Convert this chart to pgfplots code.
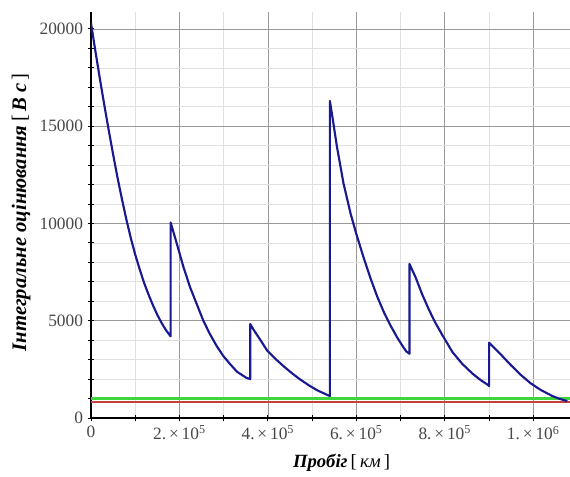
\documentclass[border=0pt]{standalone}
\usepackage{fontspec}
\setmainfont{Liberation Serif}
\usepackage{pgfplots}
\pgfplotsset{compat=1.18}
\definecolor{curveblue}{RGB}{25,25,145}
\definecolor{limgreen}{RGB}{60,215,60}
\definecolor{limred}{RGB}{195,65,65}
\begin{document}
\begin{tikzpicture}
\useasboundingbox (-68.25pt,-43.5pt) rectangle (359.25pt,313.5pt);
\begin{axis}[
  anchor=south west,at={(0,0)},
  scale only axis,width=359.25pt,height=304.5pt,
  xmin=0,xmax=1083000,ymin=0,ymax=20870,
  axis lines*=left,axis line style={-,black,line width=0.9pt},
  xtick={0,200000,400000,600000,800000,1000000},
  xticklabels={0,2.\,×\,10\textsuperscript{5},4.\,×\,10\textsuperscript{5},6.\,×\,10\textsuperscript{5},8.\,×\,10\textsuperscript{5},1.\,×\,10\textsuperscript{6}},
  ytick={0,5000,10000,15000,20000},
  scaled x ticks=false,scaled y ticks=false,
  minor x tick num=1,minor y tick num=4,
  grid=both,
  major grid style={draw=black!40,line width=0.6pt},
  minor grid style={draw=black!12,line width=0.5pt},
  tick align=center,major tick length=5pt,minor tick length=4pt,
  tick style={black,line width=0.7pt},
  /pgf/number format/assume math mode=true,
  /pgf/number format/set thousands separator={},
  ticklabel style={font=\fontsize{13}{15}\selectfont,text=black!72},
  xlabel={\textbf{\textit{Пробіг}}\,[\,\textit{км}\,]},
  ylabel={\textbf{\textit{Інтегральне оцінювання}}\,[\,\textbf{\textit{В с}}\,]},
  xlabel style={at={(axis description cs:0.523,-0.111)},anchor=center,font=\fontsize{14}{16}\selectfont},
  ylabel style={at={(axis description cs:-0.146,0.507)},anchor=center,font=\fontsize{15.5}{17}\selectfont},
]
\addplot[limred,line width=1.5pt] coordinates {(0,800) (1083000,800)};
\addplot[limgreen,line width=2pt] coordinates {(0,1000) (1083000,1000)};
\addplot[curveblue,line width=1.6pt,line join=round] coordinates {
(0,20300) (10000,18850) (20000,17450) (30000,16100) (40000,14800) (50000,13550)
(60000,12350) (70000,11250) (80000,10200) (90000,9250) (100000,8400) (110000,7650)
(120000,6950) (130000,6350) (140000,5800) (150000,5300) (160000,4870) (170000,4500)
(180000,4200)
(180000,10050) (194000,8966) (209000,7760) (224000,6724) (239000,5862) (254000,5000)
(269000,4310) (284000,3707) (299000,3190) (315000,2759) (330000,2380) (351000,2069)
(360000,2000)
(360000,4830) (367000,4560) (383000,4010) (398000,3480) (417000,3040) (436000,2650)
(455000,2290) (473000,1980) (492000,1690) (511000,1430) (530000,1230) (540000,1130)
(540000,16300) (545000,15600) (556000,13950) (571000,12050) (587000,10500) (600000,9450)
(617000,8200) (632000,7180) (647000,6250) (662000,5450) (677000,4760) (692000,4150)
(705000,3680) (713000,3420) (720000,3300)
(720000,7920) (734000,7224) (749000,6345) (764000,5569) (779000,4880) (794000,4276)
(800000,4050) (817000,3397) (839000,2793) (862000,2293) (881000,1948) (896000,1724)
(900000,1650)
(900000,3870) (926000,3280) (949000,2725) (972000,2211) (994000,1784) (1017000,1440)
(1043000,1131) (1060000,980) (1077000,870)
};
\end{axis}
\end{tikzpicture}
\end{document}
